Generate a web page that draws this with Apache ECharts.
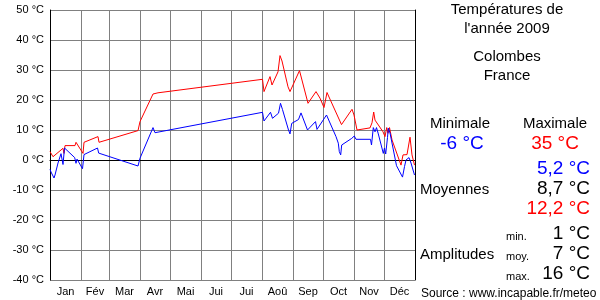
<!DOCTYPE html>
<html><head><meta charset="utf-8">
<script src="https://cdn.jsdelivr.net/npm/echarts@6/dist/echarts.min.js"></script>
<style>html,body{margin:0;padding:0;background:#fff}#c{width:600px;height:300px}</style>
</head><body><div id="c"></div>
<script>
// Month names and month start / middle (day of year, 0 = 1 Jan)
var monthNames = ['Jan','Fév','Mar','Avr','Mai','Jui','Jui','Aoû','Sep','Oct','Nov','Déc'];
var monthStarts = [0,31,59,90,120,151,181,212,243,273,304,334,365];
var yTicks = [-40,-30,-20,-10,0,10,20,30,40,50];

// Daily maxima (red): day of year and °C
var maxDays = [0,3,13,14,15,25,26,28,33,34,48,49,88,90,103,108,212.5,214,220,222,228,230,232,238,240,249.5,258,266,270,274,277,279,291.5,302,304,307,320,322,323.7,325,333,335,336.7,338,339.5,342,351,353,357,360,362,364.5];
var maxVals = [2.8,1.1,3.9,2.2,4.8,4.8,5.9,5.6,2.2,5.9,7.8,5.9,9.8,12.8,22,22.4,26.9,22.8,27.8,25,29.4,34.8,33,24.4,22.8,29.8,18.9,22.8,20.6,17.5,22.5,21,11.8,16.9,15,10,10.7,12.4,16,13.3,9.4,7.8,10.8,8.9,10.8,6.7,-1.7,1.7,1.8,7.6,1.7,-1.7];

// Daily minima (blue)
var minDays = [0,1,2,4,5,8,11,12,13,14.5,24.7,26,27,32.5,34,47.5,48.7,88,90,103,105,212.5,214,220.5,222.5,228.5,230.5,232.5,238.5,240,241.7,248.5,251,257.5,265.5,267,276.5,286,288.3,289.3,290.7,291.7,301.7,304.3,306,320.5,321.5,323.3,325,326.5,328.3,333.3,334.5,335.7,337.5,338.3,340,346.5,352.5,354.5,356,359,361,364.5];
var minVals = [-3.1,-4,-3.5,-6,-5,-1,2.1,1.5,-1.5,4,0.8,-1.1,0.3,-2.9,1.8,4,2.3,-2,0.6,10.8,9.1,15.9,13,15.9,13.9,15.6,18.9,16.8,10,8.7,12.2,13.5,15.7,10,12.8,10.2,15,7.8,5.6,2.8,1.7,5,7.2,8,6.9,6.9,5,10.8,9.4,10.8,8.7,2.2,4,2,7.5,10.6,9,-1.9,-5.7,-2.2,0,0.8,-1,-5];

function pairs(d, v){ return d.map(function(x,i){ return [x, v[i]]; }); }
var monthMids = monthNames.map(function(n,i){ return (monthStarts[i]+monthStarts[i+1])/2; });

var F = 'Liberation Sans, Arial, sans-serif';
function txt(t, x, y, size, color, align){
  return {type:'text', style:{text:t, x:x, y:y, font: size+'px '+F, fill:color||'#000', textAlign:align||'center', textVerticalAlign:'middle'}};
}

var chart = echarts.init(document.getElementById('c'), null, {renderer:'canvas'});
chart.setOption({
  animation:false,
  backgroundColor:'#fff',
  grid:{left:50, right:185, top:10, bottom:20, containLabel:false},
  xAxis:{
    type:'value', min:0, max:365,
    axisLine:{show:true, lineStyle:{color:'#000', width:1}},
    axisTick:{show:false, customValues: monthStarts},
    splitLine:{show:true, lineStyle:{color:'#808080', width:1}},
    axisLabel:{customValues: monthMids, margin:6, fontFamily:F, fontSize:11, color:'#000',
      formatter:function(v){ var i = monthMids.indexOf(v); return i>=0 ? monthNames[i] : ''; }}
  },
  yAxis:[{
    type:'value', min:-40, max:50, interval:10,
    axisLine:{show:true, lineStyle:{color:'#000', width:1}},
    axisTick:{show:false},
    splitLine:{show:true, lineStyle:{color:'#808080', width:1}},
    axisLabel:{margin:6, fontFamily:F, fontSize:11, color:'#000', formatter:function(v){ return v+' °C'; }}
  },{
    type:'value', min:-40, max:50, position:'right',
    axisLine:{show:true, lineStyle:{color:'#000', width:1}},
    axisTick:{show:false}, axisLabel:{show:false}, splitLine:{show:false}
  }],
  series:[
    {type:'line', data:pairs(maxDays,maxVals), showSymbol:false, lineStyle:{color:'#ff0000', width:1}, itemStyle:{color:'#ff0000'}, z:3},
    {type:'line', data:pairs(minDays,minVals), showSymbol:false, lineStyle:{color:'#0000ff', width:1}, itemStyle:{color:'#0000ff'}, z:3}
  ],
  graphic:[
    txt('Températures de', 507, 10, 15),
    txt("l'année 2009", 507, 29, 15),
    txt('Colombes', 507, 57, 15),
    txt('France', 507, 76, 15),
    txt('Minimale', 460, 124, 15),
    txt('Maximale', 555, 124, 15),
    txt('-6 °C', 462, 144, 19, '#0000ff'),
    txt('35 °C', 555, 144, 19, '#ff0000'),
    txt('5,2 °C', 590, 169, 19, '#0000ff', 'right'),
    txt('Moyennes', 420, 190, 15, '#000', 'left'),
    txt('8,7 °C', 590, 189, 19, '#000', 'right'),
    txt('12,2 °C', 590, 209, 19, '#ff0000', 'right'),
    txt('min.', 506, 237, 11, '#000', 'left'),
    txt('1 °C', 590, 234, 19, '#000', 'right'),
    txt('Amplitudes', 420, 255, 15, '#000', 'left'),
    txt('moy.', 506, 257, 11, '#000', 'left'),
    txt('7 °C', 590, 254, 19, '#000', 'right'),
    txt('max.', 506, 277, 11, '#000', 'left'),
    txt('16 °C', 590, 274, 19, '#000', 'right'),
    txt('Source : www.incapable.fr/meteo', 421, 294, 12, '#000', 'left')
  ]
});
</script></body></html>
